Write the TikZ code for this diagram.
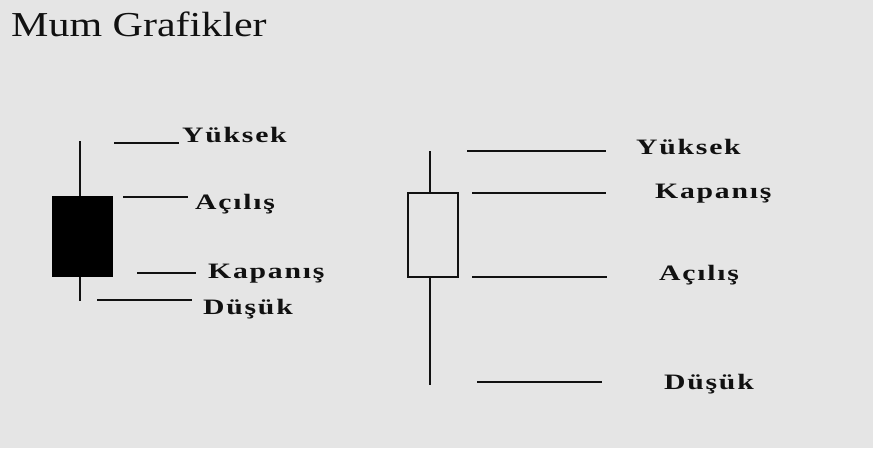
\documentclass[tikz,border=0pt]{standalone}
\usepackage{fontspec}
\setmainfont{Liberation Serif}
\newfontfamily\titlefont[FakeStretch=1.2]{Liberation Serif}
\newfontfamily\labelfont[FakeStretch=1.35,LetterSpace=8]{Liberation Serif}
\definecolor{paper}{HTML}{E5E5E5}
\definecolor{ink}{HTML}{111111}
\tikzset{
  lbl/.style={anchor=base west, inner sep=0pt, text=ink,
    font=\labelfont\bfseries\fontsize{22}{25}\selectfont},
  leader/.style={draw=ink, line width=1.3pt},
  wick/.style={draw=ink, line width=2pt},
  body/.style={draw=ink, line width=1.4pt}
}
\begin{document}
\begin{tikzpicture}[x=1pt,y=-1pt]
  \useasboundingbox (0,0) rectangle (873,448);
  \fill[paper] (0,0) rectangle (873,448);

  % title
  \node[anchor=base west, inner sep=0pt, text=ink,
        font=\titlefont\fontsize{35}{40}\selectfont] (title) at (11,36) {Mum Grafikler};

  % ---- bearish candle (filled) ----
  \coordinate (bTop) at (80,141);
  \coordinate (bBot) at (80,301);
  \draw[wick] (bTop) -- (bBot);
  \node[fill=black, draw=black, inner sep=0pt, minimum width=60pt, minimum height=80pt] (bBody) at (82.5,236) {};

  \node[lbl] (bHigh)  at (182,142) {Yüksek};
  \node[lbl] (bOpen)  at (195,209) {Açılış};
  \node[lbl] (bClose) at (208,278) {Kapanış};
  \node[lbl] (bLow)   at (203,314) {Düşük};

  \coordinate (bh1) at (114,143); \coordinate (bh2) at (179,143);
  \coordinate (bo1) at (123,197); \coordinate (bo2) at (188,197);
  \coordinate (bc1) at (137,273); \coordinate (bc2) at (196,273);
  \coordinate (bl1) at (97,300);  \coordinate (bl2) at (192,300);
  \draw[leader] (bh1) -- (bh2);
  \draw[leader] (bo1) -- (bo2);
  \draw[leader] (bc1) -- (bc2);
  \draw[leader] (bl1) -- (bl2);

  % ---- bullish candle (hollow) ----
  \coordinate (wTop) at (430,151);
  \coordinate (wBot) at (430,385);
  \draw[wick] (wTop) -- (430,193);
  \draw[wick] (430,277) -- (wBot);
  \node[body, inner sep=0pt, minimum width=50pt, minimum height=84pt] (wBody) at (433,235) {};

  \node[lbl] (wHigh)  at (636,154) {Yüksek};
  \node[lbl] (wClose) at (655,198) {Kapanış};
  \node[lbl] (wOpen)  at (659,280) {Açılış};
  \node[lbl] (wLow)   at (664,389) {Düşük};

  \coordinate (wh1) at (467,151); \coordinate (wh2) at (606,151);
  \coordinate (wc1) at (472,193); \coordinate (wc2) at (606,193);
  \coordinate (wo1) at (472,277); \coordinate (wo2) at (607,277);
  \coordinate (wl1) at (477,382); \coordinate (wl2) at (602,382);
  \draw[leader] (wh1) -- (wh2);
  \draw[leader] (wc1) -- (wc2);
  \draw[leader] (wo1) -- (wo2);
  \draw[leader] (wl1) -- (wl2);
\end{tikzpicture}
\end{document}
